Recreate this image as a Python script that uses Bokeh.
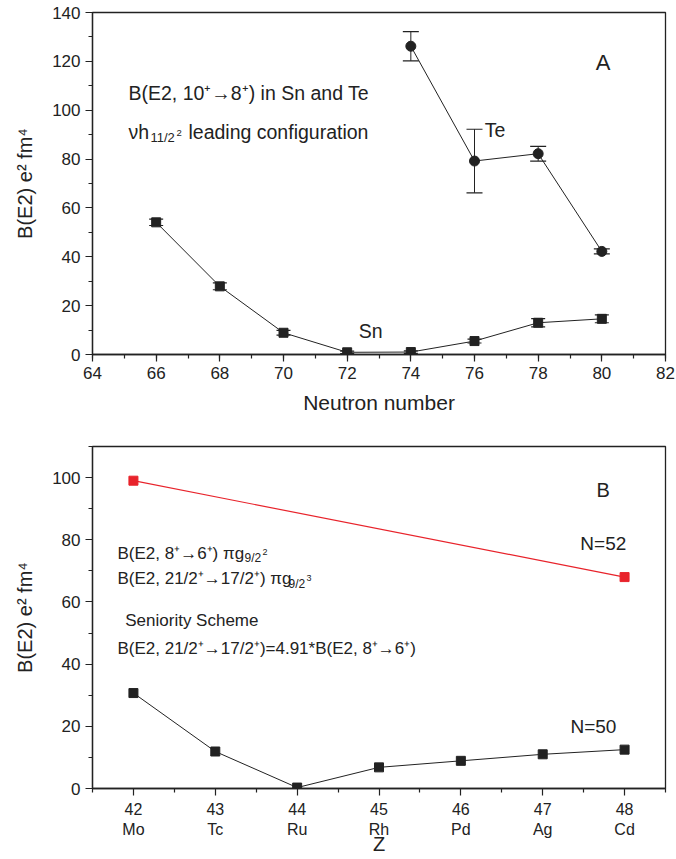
from bokeh.plotting import figure
from bokeh.models import ColumnDataSource, Whisker, TeeHead, Label, Range1d, FixedTicker
from bokeh.layouts import column
from bokeh.embed import file_html
from bokeh.resources import INLINE

# ---------------- Panel A data ----------------
sn_n = [66, 68, 70, 72, 74, 76, 78, 80]
sn_be2 = [54.1, 27.9, 8.9, 0.9, 1.0, 5.5, 13.0, 14.6]
sn_err = [1.3, 1.4, 1.0, 0.5, 0.5, 0.8, 1.7, 1.6]
te_n = [74, 76, 78, 80]
te_be2 = [126.2, 79.2, 82.2, 42.2]
te_err = [6.0, 13.0, 3.0, 1.0]
xticks_a = [64, 66, 68, 70, 72, 74, 76, 78, 80, 82]
yticks_a = [0, 20, 40, 60, 80, 100, 120, 140]

# ---------------- Panel B data ----------------
z_vals = [42, 43, 44, 45, 46, 47, 48]
elements = ["Mo", "Tc", "Ru", "Rh", "Pd", "Ag", "Cd"]
n50_be2 = [30.7, 11.9, 0.3, 6.8, 8.9, 11.0, 12.5]
n52_z = [42, 48]
n52_be2 = [99.0, 68.0]
yticks_b = [0, 20, 40, 60, 80, 100]

FONT = "Liberation Sans"
INK = "#222222"
RED = "#e8232b"
ARROW = "\u2192"
SUPP = "\u207a"


def style(p, xlabel, ylabel, tick_size="17px"):
    p.background_fill_color = "white"
    p.border_fill_color = "white"
    p.outline_line_color = INK
    p.outline_line_width = 1.3
    p.xgrid.visible = False
    p.ygrid.visible = False
    for ax in (p.xaxis[0], p.yaxis[0]):
        ax.axis_line_color = INK
        ax.axis_line_width = 1.3
        ax.major_tick_line_color = INK
        ax.minor_tick_line_color = INK
        ax.major_tick_line_width = 1.2
        ax.minor_tick_line_width = 1.2
        ax.major_tick_in = 0
        ax.major_tick_out = 7
        ax.minor_tick_in = 0
        ax.minor_tick_out = 4
        ax.major_label_text_font = FONT
        ax.major_label_text_font_size = tick_size
        ax.major_label_text_color = INK
        ax.axis_label_text_font = FONT
        ax.axis_label_text_font_size = "20px"
        ax.axis_label_text_font_style = "normal"
        ax.axis_label_text_color = INK
    p.xaxis.axis_label = xlabel
    p.yaxis.axis_label = ylabel
    p.yaxis.axis_label_standoff = 13


def lab(p, x, y, text, size, xo=0, yo=0, align="left"):
    p.add_layout(Label(x=x, y=y, text=text, x_offset=xo, y_offset=yo,
                       text_font=FONT, text_font_size=size, text_color=INK,
                       text_align=align, text_baseline="alphabetic"))


# ================= Panel A =================
pa = figure(width=676, height=432, x_range=Range1d(64, 82), y_range=Range1d(0, 140),
            output_backend="svg", toolbar_location=None,
            min_border_left=92, min_border_right=11, min_border_top=12, min_border_bottom=78)
style(pa, "Neutron number", "B(E2) e\u00b2 fm\u2074")
pa.xaxis.axis_label_text_font_size = "21px"
pa.xaxis.ticker = FixedTicker(ticks=xticks_a, minor_ticks=list(range(64, 83)))
pa.yaxis.ticker = FixedTicker(ticks=yticks_a, minor_ticks=list(range(0, 141, 10)))
pa.xaxis.axis_label_standoff = 9

sn_src = ColumnDataSource(dict(x=sn_n, y=sn_be2,
                               lo=[v - e for v, e in zip(sn_be2, sn_err)],
                               hi=[v + e for v, e in zip(sn_be2, sn_err)]))
te_src = ColumnDataSource(dict(x=te_n, y=te_be2,
                               lo=[v - e for v, e in zip(te_be2, te_err)],
                               hi=[v + e for v, e in zip(te_be2, te_err)]))

pa.line("x", "y", source=sn_src, line_color=INK, line_width=1)
pa.line("x", "y", source=te_src, line_color=INK, line_width=1)
pa.add_layout(Whisker(source=sn_src, base="x", upper="hi", lower="lo", line_color=INK, line_width=1,
                      upper_head=TeeHead(size=14, line_color=INK, line_width=1.2),
                      lower_head=TeeHead(size=14, line_color=INK, line_width=1.2)))
pa.add_layout(Whisker(source=te_src, base="x", upper="hi", lower="lo", line_color=INK, line_width=1,
                      upper_head=TeeHead(size=16, line_color=INK, line_width=1.2),
                      lower_head=TeeHead(size=16, line_color=INK, line_width=1.2)))
pa.scatter("x", "y", source=sn_src, marker="square", size=9, fill_color=INK, line_color=INK)
pa.scatter("x", "y", source=te_src, marker="circle", size=10, fill_color=INK, line_color=INK)

lab(pa, 65.13, 107.1, f"B(E2, 10{SUPP}{ARROW}8{SUPP}) in Sn and Te", "19.5px")
lab(pa, 65.13, 91.1, "\u03bdh", "19.5px")
lab(pa, 65.13, 91.1, "11/2", "13px", xo=22, yo=-6)
lab(pa, 65.13, 91.1, "2", "9.5px", xo=48, yo=-1)
lab(pa, 65.13, 91.1, "leading configuration", "19.5px", xo=60)
lab(pa, 80.04, 119.5, "A", "22px", align="center")
lab(pa, 76.32, 91.8, "Te", "19.5px")
lab(pa, 72.36, 9.5, "Sn", "19.5px")

# ================= Panel B =================
pb = figure(width=676, height=427, x_range=Range1d(41.5, 48.5), y_range=Range1d(0, 110),
            output_backend="svg", toolbar_location=None,
            min_border_left=92, min_border_right=11, min_border_top=14, min_border_bottom=71)
style(pb, "Z", "B(E2) e\u00b2 fm\u2074", tick_size="16px")
pb.xaxis.ticker = FixedTicker(ticks=z_vals, minor_ticks=[v + 0.5 for v in [41] + z_vals])
pb.yaxis.ticker = FixedTicker(ticks=yticks_b, minor_ticks=list(range(0, 111, 10)))
pb.yaxis.major_label_text_font_size = "17px"
pb.xaxis.major_label_overrides = {z: f"{z}\n{el}" for z, el in zip(z_vals, elements)}
pb.xaxis.major_label_standoff = 5
pb.xaxis.axis_label_standoff = -8
pb.xaxis.axis_label_text_font_size = "20px"

n50_src = ColumnDataSource(dict(x=z_vals, y=n50_be2))
n52_src = ColumnDataSource(dict(x=n52_z, y=n52_be2))
pb.line("x", "y", source=n52_src, line_color=RED, line_width=1.2)
pb.line("x", "y", source=n50_src, line_color=INK, line_width=1)
pb.scatter("x", "y", source=n52_src, marker="square", size=9, fill_color=RED, line_color=RED)
pb.scatter("x", "y", source=n50_src, marker="square", size=9, fill_color=INK, line_color=INK)

lab(pb, 47.74, 96.1, "B", "20px", align="center")
lab(pb, 47.74, 78.9, "N=52", "19px", align="center")
lab(pb, 47.62, 19.9, "N=50", "19px", align="center")

lab(pb, 41.805, 75.6, f"B(E2, 8{SUPP}{ARROW}6{SUPP}) \u03c0g", "17px")
lab(pb, 41.805, 75.6, "9/2", "12px", xo=127, yo=-5)
lab(pb, 41.805, 75.6, "2", "9px", xo=145, yo=1)
lab(pb, 41.805, 67.7, f"B(E2, 21/2{SUPP}{ARROW}17/2{SUPP}) \u03c0g", "17px")
lab(pb, 41.805, 67.7, "9/2", "12px", xo=171, yo=-6)
lab(pb, 41.805, 67.7, "3", "9px", xo=189, yo=0)
lab(pb, 41.9, 54.0, "Seniority Scheme", "17px")
lab(pb, 41.805, 44.9,
    f"B(E2, 21/2{SUPP}{ARROW}17/2{SUPP})=4.91*B(E2, 8{SUPP}{ARROW}6{SUPP})", "17px")

layout = column(pa, pb, spacing=0)
open("out.html", "w").write(file_html(layout, INLINE))
